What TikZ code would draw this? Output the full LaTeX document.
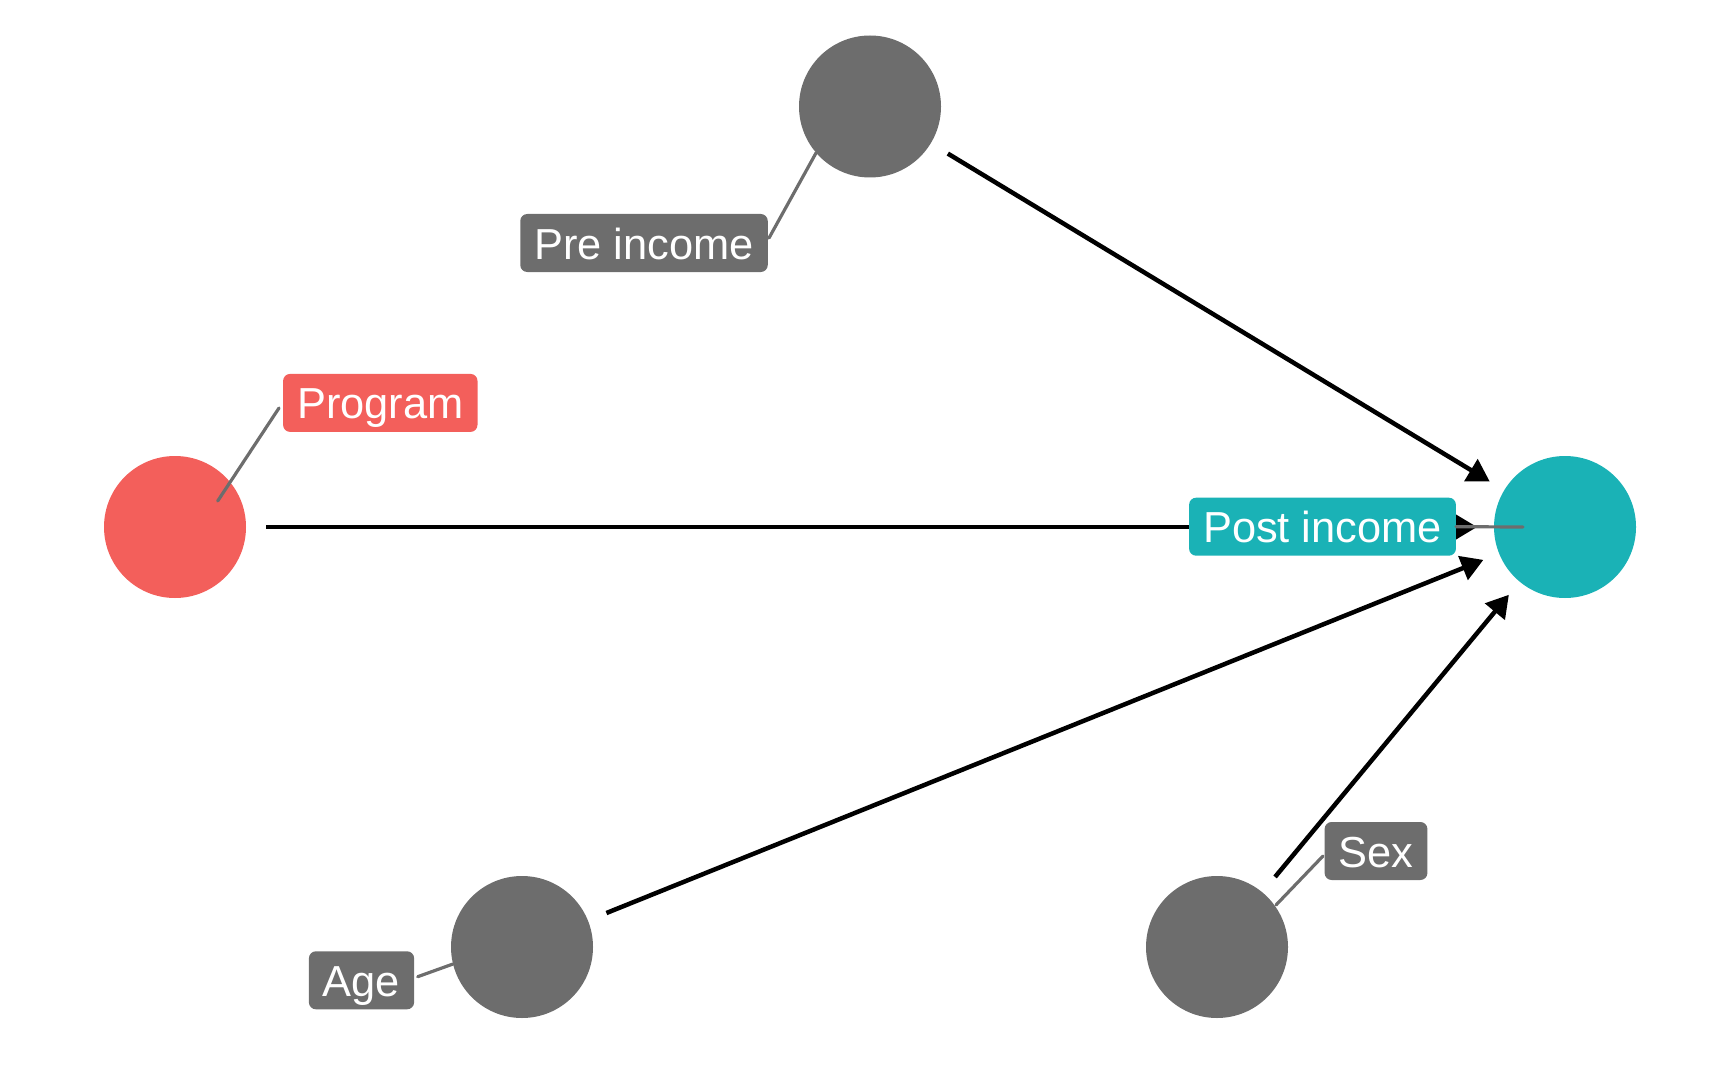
\documentclass[tikz,border=0pt]{standalone}
\usepackage{fontspec}
\setmainfont{Liberation Sans}
\usetikzlibrary{arrows.meta}
\definecolor{dgray}{HTML}{6D6D6D}
\definecolor{dred}{HTML}{F35F5B}
\definecolor{dteal}{HTML}{1AB2B6}
\tikzset{
  dagnode/.style={circle, minimum size=142pt, inner sep=0pt, outer sep=0pt, draw=none, fill=#1},
  daglabel/.style={rectangle, rounded corners=7pt, fill=#1, text=white, inner xsep=14pt, inner ysep=0pt,
    text height=45pt, text depth=13pt, font=\fontsize{43.4pt}{52pt}\selectfont},
  dagedge/.style={line width=4.5pt, -{Triangle[length=22pt,width=25pt]}, shorten <=20pt, shorten >=17pt},
  leader/.style={line width=3.2pt, draw=dgray, line cap=round}
}
\begin{document}
\begin{tikzpicture}[x=1pt,y=-1pt]
\useasboundingbox (0,0) rectangle (1728,1067);
% nodes
\node[dagnode=dgray] (pre) at (870,106.5) {};
\node[dagnode=dred] (prog) at (175,527) {};
\node[dagnode=dteal] (post) at (1565,527) {};
\node[dagnode=dgray] (age) at (522,947) {};
\node[dagnode=dgray] (sex) at (1217,947) {};
% edges
\draw[dagedge] (prog) -- (post);
\draw[dagedge] (pre) -- (post);
\draw[dagedge] (age) -- (post);
\draw[dagedge] (sex) -- (post);
% label nodes
\node[daglabel=dgray] (prel) at (644,243) {Pre income};
\node[daglabel=dred] (progl) at (380.3,402.9) {Program};
\node[daglabel=dteal] (postl) at (1322.5,526.7) {Post income};
\node[daglabel=dgray] (agel) at (361.5,980.3) {Age};
\node[daglabel=dgray] (sexl) at (1376,851) {Sex};
% leader end points
\coordinate (preE) at (816,153);
\coordinate (progE) at (217.7,501);
\coordinate (postE) at (1523,527);
\coordinate (ageE) at (453,964);
\coordinate (sexE) at (1276,905);
\coordinate (preS) at (769,238);
\coordinate (progS) at (279,408);
\coordinate (ageS) at (417.7,976.7);
\coordinate (sexS) at (1323,856);
\draw[leader] (preS) -- (preE);
\draw[leader] (progS) -- (progE);
\draw[leader] (postl.east) -- (postE);
\draw[leader] (ageS) -- (ageE);
\draw[leader] (sexS) -- (sexE);
\end{tikzpicture}
\end{document}
